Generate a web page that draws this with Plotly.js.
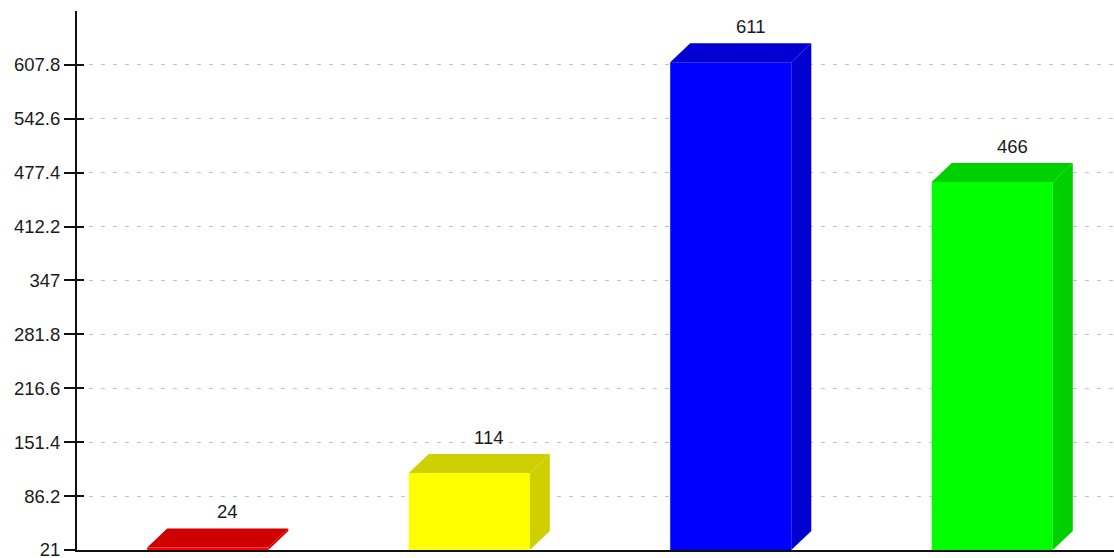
<!DOCTYPE html>
<html>
<head>
<meta charset="utf-8">
<script src="https://cdn.plot.ly/plotly-3.0.1.min.js"></script>
<style>html,body{margin:0;padding:0;background:#fff;}#chart{width:1114px;height:558px;}</style>
</head>
<body>
<div id="chart"></div>
<script>
// ---- data ----
const categories = ["A", "B", "C", "D"];
const values = [24, 114, 611, 466];
const frontColors = ["#ff0000", "#ffff00", "#0000ff", "#00ff00"];
const sideColors = ["#d00000", "#d0d000", "#0000d0", "#00d000"];
const yTickVals = [21, 86.2, 151.4, 216.6, 281.8, 347, 412.2, 477.4, 542.6, 607.8];
const yTickText = ["21", "86.2", "151.4", "216.6", "281.8", "347", "412.2", "477.4", "542.6", "607.8"];

// ---- geometry (style) ----
const base = 21;
const barW = 0.463;   // bar width in category units
const depthX = 0.0765; // 3D depth offset, category units
const depthY = 23;     // 3D depth offset, value units
const fontFam = "Liberation Sans, Arial, sans-serif";

const traces = [];
const annotations = [];
values.forEach((v, i) => {
  const x0 = i - barW / 2, x1 = i + barW / 2;
  traces.push({
    type: "scatter", mode: "lines", x: [x0, x1, x1, x0, x0], y: [base, base, v, v, base],
    fill: "toself", fillcolor: frontColors[i], line: {width: 0, color: frontColors[i]},
    hoverinfo: "skip", showlegend: false
  });
  traces.push({
    type: "scatter", mode: "lines",
    x: [x0, x1, x1 + depthX, x0 + depthX, x0], y: [v, v, v + depthY, v + depthY, v],
    fill: "toself", fillcolor: sideColors[i], line: {width: 0, color: sideColors[i]},
    hoverinfo: "skip", showlegend: false
  });
  traces.push({
    type: "scatter", mode: "lines",
    x: [x1, x1 + depthX, x1 + depthX, x1, x1], y: [base, base + depthY, v + depthY, v, base],
    fill: "toself", fillcolor: sideColors[i], line: {width: 0, color: sideColors[i]},
    hoverinfo: "skip", showlegend: false
  });
  annotations.push({
    x: i + depthX, y: v + depthY, xref: "x", yref: "y", text: String(v),
    showarrow: false, yanchor: "middle", yshift: 17,
    font: {family: fontFam, size: 18.5, color: "#1a1a1a"}
  });
});

const layout = {
  width: 1114, height: 558,
  margin: {l: 77, r: 0, t: 11, b: 8, pad: 0},
  paper_bgcolor: "#fff", plot_bgcolor: "#fff",
  showlegend: false,
  font: {family: fontFam, size: 18.5, color: "#1a1a1a"},
  xaxis: {
    range: [-0.5, 3.4656], showgrid: false, zeroline: false,
    showticklabels: false, ticks: "", showline: true, linecolor: "#111", linewidth: 2,
    fixedrange: true
  },
  yaxis: {
    range: [20.9, 673], tickmode: "array", tickvals: yTickVals, ticktext: yTickText,
    ticks: "outside", ticklen: 11, tickwidth: 2, tickcolor: "#111",
    showline: true, linecolor: "#111", linewidth: 2, zeroline: false,
    showgrid: true, gridcolor: "#c4c4c4", gridwidth: 1, griddash: "4px,8px",
    tickfont: {family: fontFam, size: 18.5, color: "#1a1a1a"},
    ticklabeloverflow: "allow",
    fixedrange: true
  },
  yaxis2: {
    range: [20.9, 673], overlaying: "y", side: "left", tickmode: "array", tickvals: yTickVals,
    ticks: "inside", ticklen: 7, tickwidth: 2, tickcolor: "#111",
    showticklabels: false, showgrid: false, zeroline: false, showline: false, fixedrange: true
  },
  annotations: annotations
};

traces.push({type: "scatter", x: [], y: [], yaxis: "y2", hoverinfo: "skip", showlegend: false});

Plotly.newPlot("chart", traces, layout, {displayModeBar: false, staticPlot: true});
</script>
</body>
</html>
